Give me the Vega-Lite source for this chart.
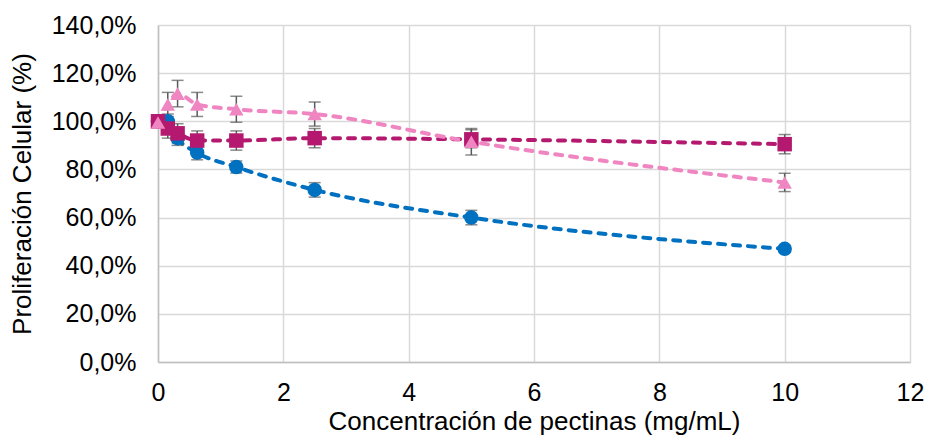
{
  "$schema": "https://vega.github.io/schema/vega-lite/v6.json",
  "width": 752,
  "height": 337,
  "autosize": {"type": "none"},
  "padding": {"left": 158, "top": 25, "right": 19, "bottom": 75},
  "background": "white",
  "config": {
    "view": {"stroke": null},
    "font": "Liberation Sans",
    "axis": {"labelFont": "Liberation Sans", "titleFont": "Liberation Sans", "labelColor": "#000000", "titleColor": "#000000", "titleFontWeight": "normal", "gridColor": "#D9D9D9", "gridWidth": 1.5, "ticks": false, "domainColor": "#BFBFBF", "domainWidth": 1.5}
  },
  "data": {
    "values": [
      {"conc": 0, "serie": "A", "value": 100, "lo": 98, "hi": 102},
      {"conc": 0.156, "serie": "A", "value": 100, "lo": 97, "hi": 103},
      {"conc": 0.3125, "serie": "A", "value": 93, "lo": 90, "hi": 96},
      {"conc": 0.625, "serie": "A", "value": 87, "lo": 84, "hi": 90},
      {"conc": 1.25, "serie": "A", "value": 81, "lo": 78.5, "hi": 83.5},
      {"conc": 2.5, "serie": "A", "value": 71.5, "lo": 68.5, "hi": 74.5},
      {"conc": 5, "serie": "A", "value": 60, "lo": 57, "hi": 63},
      {"conc": 10, "serie": "A", "value": 47, "lo": 45.5, "hi": 48.5},
      {"conc": 0, "serie": "B", "value": 100, "lo": 97.5, "hi": 102.5},
      {"conc": 0.156, "serie": "B", "value": 97, "lo": 93, "hi": 101},
      {"conc": 0.3125, "serie": "B", "value": 95, "lo": 91, "hi": 99},
      {"conc": 0.625, "serie": "B", "value": 92, "lo": 88, "hi": 96},
      {"conc": 1.25, "serie": "B", "value": 92, "lo": 88, "hi": 96},
      {"conc": 2.5, "serie": "B", "value": 93, "lo": 89, "hi": 97},
      {"conc": 5, "serie": "B", "value": 92.5, "lo": 89, "hi": 96.5},
      {"conc": 10, "serie": "B", "value": 90.5, "lo": 86.5, "hi": 94.5},
      {"conc": 0, "serie": "C", "value": 99.5, "lo": 97.5, "hi": 101.5},
      {"conc": 0.156, "serie": "C", "value": 107, "lo": 102, "hi": 112},
      {"conc": 0.3125, "serie": "C", "value": 111.5, "lo": 106, "hi": 117},
      {"conc": 0.625, "serie": "C", "value": 107, "lo": 102, "hi": 112},
      {"conc": 1.25, "serie": "C", "value": 105, "lo": 99.6, "hi": 110.4},
      {"conc": 2.5, "serie": "C", "value": 103, "lo": 98, "hi": 108},
      {"conc": 5, "serie": "C", "value": 91.5, "lo": 86, "hi": 97},
      {"conc": 10, "serie": "C", "value": 74.6, "lo": 70.8, "hi": 78.4}
    ]
  },
  "encoding": {
    "x": {"field": "conc", "type": "quantitative", "scale": {"domain": [0, 12], "nice": false},
      "axis": {"values": [0, 2, 4, 6, 8, 10, 12], "labelFontSize": 25, "labelPadding": 18, "title": "Concentración de pectinas (mg/mL)", "titleFontSize": 26, "titlePadding": 3, "labelFlush": false}}
  },
  "layer": [
    {
      "mark": {"type": "line", "interpolate": "monotone", "strokeWidth": 4, "strokeDash": [7, 8], "strokeCap": "round"},
      "encoding": {
        "y": {"field": "value", "type": "quantitative", "scale": {"domain": [0, 140], "nice": false},
          "axis": {"values": [0, 20, 40, 60, 80, 100, 120, 140], "labelFontSize": 25, "labelPadding": 22, "labelExpr": "replace(format(datum.value, '.1f'), '.', ',') + '%'", "title": "Proliferación Celular (%)", "titleFontSize": 26, "titlePadding": 16}},
        "color": {"field": "serie", "type": "nominal", "scale": {"domain": ["A", "B", "C"], "range": ["#0070C0", "#B4186F", "#EF86C1"]}, "legend": null},
        "order": {"field": "conc", "type": "quantitative"}
      }
    },
    {
      "mark": {"type": "rule", "color": "#595959", "strokeWidth": 1.5},
      "encoding": {
        "y": {"field": "lo", "type": "quantitative"},
        "y2": {"field": "hi"},
        "detail": {"field": "serie"}
      }
    },
    {
      "mark": {"type": "tick", "orient": "horizontal", "color": "#595959", "size": 12, "thickness": 1.5},
      "encoding": {"y": {"field": "lo", "type": "quantitative"}}
    },
    {
      "mark": {"type": "tick", "orient": "horizontal", "color": "#595959", "size": 12, "thickness": 1.5},
      "encoding": {"y": {"field": "hi", "type": "quantitative"}}
    },
    {
      "mark": {"type": "point", "filled": true, "opacity": 1, "size": 210},
      "encoding": {
        "y": {"field": "value", "type": "quantitative"},
        "color": {"field": "serie", "type": "nominal", "legend": null},
        "shape": {"field": "serie", "type": "nominal", "scale": {"domain": ["A", "B", "C"], "range": ["circle", "square", "triangle-up"]}, "legend": null}
      }
    }
  ]
}
